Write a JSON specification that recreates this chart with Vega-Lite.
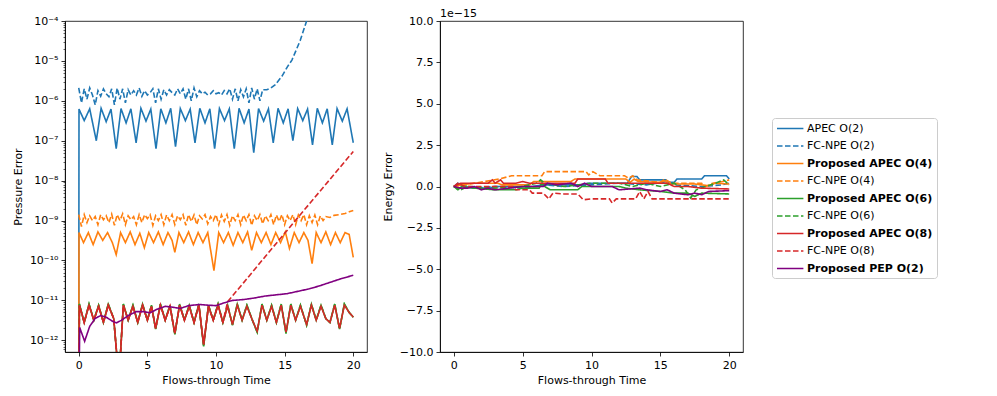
{
"$schema": "https://vega.github.io/schema/vega-lite/v6.json",
"padding": {"left": 11, "top": 7, "right": 5, "bottom": 5},
"background": "white",
"config": {
 "font": "DejaVu Sans",
 "view": {"stroke": "black", "strokeWidth": 0.8},
 "axis": {"labelFont": "DejaVu Sans", "labelFontSize": 11, "labelColor": "black", "titleFont": "DejaVu Sans", "titleFontSize": 11, "titleFontWeight": "normal", "titleColor": "black", "domainColor": "black", "domainWidth": 0.8, "tickColor": "black", "tickWidth": 0.8, "tickSize": 4, "labelPadding": 3, "grid": false},
 "axisX": {"titlePadding": 4},
 "axisY": {"titlePadding": 6}
},
"datasets": {
"pressure": [
{"s":"A2","t":0,"v":1e-14},{"s":"A2","t":0.02,"v":6.2e-7},{"s":"A2","t":0.4,"v":3.2e-7},{"s":"A2","t":0.8,"v":6.3e-7},{"s":"A2","t":1.28,"v":1.0e-7},{"s":"A2","t":1.63,"v":6.5e-7},{"s":"A2","t":2.0,"v":3.0e-7},{"s":"A2","t":2.35,"v":6.2e-7},{"s":"A2","t":2.73,"v":6.3e-8},{"s":"A2","t":3.08,"v":6.4e-7},{"s":"A2","t":3.45,"v":2.8e-7},{"s":"A2","t":3.8,"v":6.3e-7},{"s":"A2","t":4.18,"v":8.9e-8},{"s":"A2","t":4.53,"v":6.5e-7},{"s":"A2","t":4.9,"v":3.1e-7},{"s":"A2","t":5.25,"v":6.2e-7},{"s":"A2","t":5.63,"v":6.3e-8},{"s":"A2","t":5.98,"v":6.3e-7},{"s":"A2","t":6.35,"v":2.8e-7},{"s":"A2","t":6.7,"v":6.5e-7},{"s":"A2","t":7.05,"v":7.1e-8},{"s":"A2","t":7.4,"v":6.4e-7},{"s":"A2","t":7.77,"v":3.2e-7},{"s":"A2","t":8.12,"v":6.2e-7},{"s":"A2","t":8.47,"v":8.9e-8},{"s":"A2","t":8.82,"v":6.5e-7},{"s":"A2","t":9.2,"v":2.8e-7},{"s":"A2","t":9.55,"v":6.3e-7},{"s":"A2","t":9.9,"v":6.3e-8},{"s":"A2","t":10.25,"v":6.4e-7},{"s":"A2","t":10.62,"v":3.2e-7},{"s":"A2","t":10.97,"v":6.3e-7},{"s":"A2","t":11.33,"v":6.3e-8},{"s":"A2","t":11.68,"v":6.5e-7},{"s":"A2","t":12.05,"v":2.8e-7},{"s":"A2","t":12.4,"v":6.2e-7},{"s":"A2","t":12.75,"v":5.0e-8},{"s":"A2","t":13.1,"v":6.4e-7},{"s":"A2","t":13.47,"v":3.1e-7},{"s":"A2","t":13.82,"v":6.3e-7},{"s":"A2","t":14.17,"v":8.9e-8},{"s":"A2","t":14.52,"v":6.5e-7},{"s":"A2","t":14.9,"v":2.8e-7},{"s":"A2","t":15.25,"v":6.3e-7},{"s":"A2","t":15.6,"v":1.0e-7},{"s":"A2","t":15.95,"v":6.4e-7},{"s":"A2","t":16.32,"v":3.2e-7},{"s":"A2","t":16.67,"v":6.2e-7},{"s":"A2","t":17.03,"v":7.9e-8},{"s":"A2","t":17.38,"v":6.5e-7},{"s":"A2","t":17.75,"v":2.8e-7},{"s":"A2","t":18.1,"v":6.3e-7},{"s":"A2","t":18.47,"v":7.9e-8},{"s":"A2","t":18.82,"v":6.4e-7},{"s":"A2","t":19.2,"v":3.1e-7},{"s":"A2","t":19.55,"v":6.3e-7},{"s":"A2","t":20,"v":8.9e-8},
{"s":"F2","t":0,"v":2.1e-6},{"s":"F2","t":0.2,"v":8.9e-7},{"s":"F2","t":0.4,"v":2.0e-6},{"s":"F2","t":0.6,"v":1.1e-6},{"s":"F2","t":0.8,"v":2.1e-6},{"s":"F2","t":1.0,"v":1.4e-6},{"s":"F2","t":1.2,"v":7.9e-7},{"s":"F2","t":1.4,"v":1.8e-6},{"s":"F2","t":1.6,"v":1.3e-6},{"s":"F2","t":1.8,"v":2.0e-6},{"s":"F2","t":2.0,"v":1.5e-6},{"s":"F2","t":2.2,"v":1.26e-6},{"s":"F2","t":2.4,"v":2.0e-6},{"s":"F2","t":2.6,"v":7.9e-7},{"s":"F2","t":2.8,"v":2.1e-6},{"s":"F2","t":3.0,"v":1.1e-6},{"s":"F2","t":3.2,"v":2.0e-6},{"s":"F2","t":3.4,"v":8.9e-7},{"s":"F2","t":3.6,"v":1.9e-6},{"s":"F2","t":3.8,"v":1.4e-6},{"s":"F2","t":4.0,"v":1.8e-6},{"s":"F2","t":4.2,"v":1.4e-6},{"s":"F2","t":4.4,"v":2.1e-6},{"s":"F2","t":4.6,"v":1.3e-6},{"s":"F2","t":4.8,"v":1.8e-6},{"s":"F2","t":5.0,"v":1.4e-6},{"s":"F2","t":5.2,"v":1.6e-6},{"s":"F2","t":5.4,"v":2.0e-6},{"s":"F2","t":5.6,"v":8.9e-7},{"s":"F2","t":5.8,"v":2.0e-6},{"s":"F2","t":6.0,"v":1.1e-6},{"s":"F2","t":6.2,"v":1.9e-6},{"s":"F2","t":6.4,"v":1.4e-6},{"s":"F2","t":6.6,"v":1.9e-6},{"s":"F2","t":6.8,"v":1.6e-6},{"s":"F2","t":7.0,"v":1.4e-6},{"s":"F2","t":7.2,"v":2.0e-6},{"s":"F2","t":7.4,"v":1.5e-6},{"s":"F2","t":7.6,"v":2.0e-6},{"s":"F2","t":7.8,"v":1.1e-6},{"s":"F2","t":8.0,"v":2.0e-6},{"s":"F2","t":8.2,"v":1.0e-6},{"s":"F2","t":8.4,"v":2.1e-6},{"s":"F2","t":8.6,"v":1.26e-6},{"s":"F2","t":8.8,"v":1.8e-6},{"s":"F2","t":9.0,"v":1.5e-6},{"s":"F2","t":9.2,"v":1.65e-6},{"s":"F2","t":9.4,"v":1.4e-6},{"s":"F2","t":9.6,"v":1.5e-6},{"s":"F2","t":9.8,"v":1.8e-6},{"s":"F2","t":10.0,"v":1.5e-6},{"s":"F2","t":10.2,"v":1.6e-6},{"s":"F2","t":10.4,"v":1.4e-6},{"s":"F2","t":10.6,"v":1.8e-6},{"s":"F2","t":10.8,"v":1.5e-6},{"s":"F2","t":11.0,"v":2.0e-6},{"s":"F2","t":11.2,"v":1.1e-6},{"s":"F2","t":11.4,"v":2.0e-6},{"s":"F2","t":11.6,"v":1.0e-6},{"s":"F2","t":11.8,"v":1.9e-6},{"s":"F2","t":12.0,"v":1.26e-6},{"s":"F2","t":12.2,"v":2.0e-6},{"s":"F2","t":12.4,"v":8.9e-7},{"s":"F2","t":12.6,"v":2.1e-6},{"s":"F2","t":12.8,"v":1.1e-6},{"s":"F2","t":13.0,"v":2.0e-6},{"s":"F2","t":13.2,"v":1.0e-6},{"s":"F2","t":13.4,"v":1.9e-6},{"s":"F2","t":13.7,"v":1.9e-6},{"s":"F2","t":14.0,"v":2.1e-6},{"s":"F2","t":14.3,"v":2.5e-6},{"s":"F2","t":14.8,"v":4.1e-6},{"s":"F2","t":15.2,"v":7.1e-6},{"s":"F2","t":15.53,"v":1.05e-5},{"s":"F2","t":15.85,"v":1.9e-5},{"s":"F2","t":16.14,"v":3.3e-5},{"s":"F2","t":16.6,"v":1.0e-4},{"s":"F2","t":17.0,"v":2.2e-4},
{"s":"A4","t":0,"v":1e-14},{"s":"A4","t":0.02,"v":5.0e-10},{"s":"A4","t":0.35,"v":2.8e-10},{"s":"A4","t":0.7,"v":5.0e-10},{"s":"A4","t":1.05,"v":2.5e-10},{"s":"A4","t":1.4,"v":5.2e-10},{"s":"A4","t":1.75,"v":3.2e-10},{"s":"A4","t":2.1,"v":5.0e-10},{"s":"A4","t":2.45,"v":2.8e-10},{"s":"A4","t":2.73,"v":1.4e-10},{"s":"A4","t":3.05,"v":5.0e-10},{"s":"A4","t":3.4,"v":2.8e-10},{"s":"A4","t":3.75,"v":5.2e-10},{"s":"A4","t":4.1,"v":2.5e-10},{"s":"A4","t":4.45,"v":4.8e-10},{"s":"A4","t":4.78,"v":2.1e-10},{"s":"A4","t":5.1,"v":5.0e-10},{"s":"A4","t":5.45,"v":2.8e-10},{"s":"A4","t":5.8,"v":5.2e-10},{"s":"A4","t":6.15,"v":2.5e-10},{"s":"A4","t":6.5,"v":5.0e-10},{"s":"A4","t":6.8,"v":3.2e-10},{"s":"A4","t":7.0,"v":1.6e-10},{"s":"A4","t":7.3,"v":5.0e-10},{"s":"A4","t":7.65,"v":2.8e-10},{"s":"A4","t":8.0,"v":5.2e-10},{"s":"A4","t":8.35,"v":2.5e-10},{"s":"A4","t":8.7,"v":5.0e-10},{"s":"A4","t":9.05,"v":2.8e-10},{"s":"A4","t":9.4,"v":5.0e-10},{"s":"A4","t":9.85,"v":5.6e-11},{"s":"A4","t":10.2,"v":5.0e-10},{"s":"A4","t":10.55,"v":2.8e-10},{"s":"A4","t":10.9,"v":5.0e-10},{"s":"A4","t":11.25,"v":2.4e-10},{"s":"A4","t":11.6,"v":5.0e-10},{"s":"A4","t":11.95,"v":2.8e-10},{"s":"A4","t":12.3,"v":5.2e-10},{"s":"A4","t":12.6,"v":1.8e-10},{"s":"A4","t":12.95,"v":5.0e-10},{"s":"A4","t":13.3,"v":2.8e-10},{"s":"A4","t":13.65,"v":5.0e-10},{"s":"A4","t":14.0,"v":2.5e-10},{"s":"A4","t":14.35,"v":5.0e-10},{"s":"A4","t":14.7,"v":2.8e-10},{"s":"A4","t":15.05,"v":5.2e-10},{"s":"A4","t":15.35,"v":2.0e-10},{"s":"A4","t":15.7,"v":5.0e-10},{"s":"A4","t":16.05,"v":2.8e-10},{"s":"A4","t":16.4,"v":5.0e-10},{"s":"A4","t":16.7,"v":3.2e-10},{"s":"A4","t":17.0,"v":8.3e-11},{"s":"A4","t":17.3,"v":5.0e-10},{"s":"A4","t":17.65,"v":2.8e-10},{"s":"A4","t":18.0,"v":5.2e-10},{"s":"A4","t":18.35,"v":2.5e-10},{"s":"A4","t":18.7,"v":5.0e-10},{"s":"A4","t":19.05,"v":2.8e-10},{"s":"A4","t":19.4,"v":5.0e-10},{"s":"A4","t":19.7,"v":4.5e-10},{"s":"A4","t":20,"v":1.2e-10},
{"s":"F4","t":0,"v":1.41e-9},{"s":"F4","t":0.2,"v":7.1e-10},{"s":"F4","t":0.4,"v":1.41e-9},{"s":"F4","t":0.6,"v":8.9e-10},{"s":"F4","t":0.8,"v":1.32e-9},{"s":"F4","t":1.0,"v":1.0e-9},{"s":"F4","t":1.2,"v":1.26e-9},{"s":"F4","t":1.4,"v":7.9e-10},{"s":"F4","t":1.6,"v":1.41e-9},{"s":"F4","t":1.8,"v":1.05e-9},{"s":"F4","t":2.0,"v":1.32e-9},{"s":"F4","t":2.2,"v":8.9e-10},{"s":"F4","t":2.4,"v":1.45e-9},{"s":"F4","t":2.6,"v":7.6e-10},{"s":"F4","t":2.8,"v":1.41e-9},{"s":"F4","t":3.0,"v":1.0e-9},{"s":"F4","t":3.2,"v":1.48e-9},{"s":"F4","t":3.4,"v":7.9e-10},{"s":"F4","t":3.6,"v":1.32e-9},{"s":"F4","t":3.8,"v":1.05e-9},{"s":"F4","t":4.0,"v":1.26e-9},{"s":"F4","t":4.2,"v":7.9e-10},{"s":"F4","t":4.4,"v":1.41e-9},{"s":"F4","t":4.6,"v":8.9e-10},{"s":"F4","t":4.8,"v":1.41e-9},{"s":"F4","t":5.0,"v":1.12e-9},{"s":"F4","t":5.2,"v":1.41e-9},{"s":"F4","t":5.4,"v":7.6e-10},{"s":"F4","t":5.6,"v":1.32e-9},{"s":"F4","t":5.8,"v":1.0e-9},{"s":"F4","t":6.0,"v":1.41e-9},{"s":"F4","t":6.2,"v":7.9e-10},{"s":"F4","t":6.4,"v":1.38e-9},{"s":"F4","t":6.6,"v":1.0e-9},{"s":"F4","t":6.8,"v":1.41e-9},{"s":"F4","t":7.0,"v":7.9e-10},{"s":"F4","t":7.2,"v":1.32e-9},{"s":"F4","t":7.4,"v":1.05e-9},{"s":"F4","t":7.6,"v":1.41e-9},{"s":"F4","t":7.8,"v":7.6e-10},{"s":"F4","t":8.0,"v":1.41e-9},{"s":"F4","t":8.2,"v":9.5e-10},{"s":"F4","t":8.4,"v":1.38e-9},{"s":"F4","t":8.6,"v":7.9e-10},{"s":"F4","t":8.8,"v":1.32e-9},{"s":"F4","t":9.0,"v":1.1e-9},{"s":"F4","t":9.2,"v":1.41e-9},{"s":"F4","t":9.4,"v":8.3e-10},{"s":"F4","t":9.6,"v":1.26e-9},{"s":"F4","t":9.8,"v":1.0e-9},{"s":"F4","t":10.0,"v":1.41e-9},{"s":"F4","t":10.2,"v":7.9e-10},{"s":"F4","t":10.4,"v":1.38e-9},{"s":"F4","t":10.6,"v":9.5e-10},{"s":"F4","t":10.8,"v":1.41e-9},{"s":"F4","t":11.0,"v":7.6e-10},{"s":"F4","t":11.2,"v":1.32e-9},{"s":"F4","t":11.4,"v":1.0e-9},{"s":"F4","t":11.6,"v":1.41e-9},{"s":"F4","t":11.8,"v":7.9e-10},{"s":"F4","t":12.0,"v":1.38e-9},{"s":"F4","t":12.2,"v":1.0e-9},{"s":"F4","t":12.4,"v":1.41e-9},{"s":"F4","t":12.6,"v":7.6e-10},{"s":"F4","t":12.8,"v":1.32e-9},{"s":"F4","t":13.0,"v":1.0e-9},{"s":"F4","t":13.2,"v":1.41e-9},{"s":"F4","t":13.4,"v":8.3e-10},{"s":"F4","t":13.6,"v":1.32e-9},{"s":"F4","t":13.8,"v":1.0e-9},{"s":"F4","t":14.0,"v":1.41e-9},{"s":"F4","t":14.2,"v":7.9e-10},{"s":"F4","t":14.4,"v":1.38e-9},{"s":"F4","t":14.6,"v":9.5e-10},{"s":"F4","t":14.8,"v":1.41e-9},{"s":"F4","t":15.0,"v":7.9e-10},{"s":"F4","t":15.2,"v":1.32e-9},{"s":"F4","t":15.4,"v":1.0e-9},{"s":"F4","t":15.6,"v":1.41e-9},{"s":"F4","t":15.8,"v":7.9e-10},{"s":"F4","t":16.0,"v":1.38e-9},{"s":"F4","t":16.2,"v":1.0e-9},{"s":"F4","t":16.4,"v":1.41e-9},{"s":"F4","t":16.6,"v":7.9e-10},{"s":"F4","t":16.8,"v":1.32e-9},{"s":"F4","t":17.0,"v":8.9e-10},{"s":"F4","t":17.2,"v":1.38e-9},{"s":"F4","t":17.4,"v":7.9e-10},{"s":"F4","t":17.6,"v":1.32e-9},{"s":"F4","t":17.8,"v":1.0e-9},{"s":"F4","t":18.0,"v":1.26e-9},{"s":"F4","t":18.3,"v":1.2e-9},{"s":"F4","t":18.6,"v":1.35e-9},{"s":"F4","t":19.0,"v":1.41e-9},{"s":"F4","t":19.4,"v":1.51e-9},{"s":"F4","t":19.7,"v":1.66e-9},{"s":"F4","t":20,"v":1.78e-9},
{"s":"A6","t":0,"v":1e-14},{"s":"A6","t":0.05,"v":8.1e-12},{"s":"A6","t":0.4,"v":2.8e-12},{"s":"A6","t":0.75,"v":8.1e-12},{"s":"A6","t":1.1,"v":3.2e-12},{"s":"A6","t":1.45,"v":7.6e-12},{"s":"A6","t":1.8,"v":2.8e-12},{"s":"A6","t":2.15,"v":8.1e-12},{"s":"A6","t":2.55,"v":3.5e-12},{"s":"A6","t":2.93,"v":1e-13},{"s":"A6","t":3.25,"v":8.1e-12},{"s":"A6","t":3.6,"v":3.2e-12},{"s":"A6","t":3.95,"v":7.6e-12},{"s":"A6","t":4.3,"v":2.8e-12},{"s":"A6","t":4.65,"v":8.1e-12},{"s":"A6","t":5.0,"v":3.2e-12},{"s":"A6","t":5.3,"v":7.6e-12},{"s":"A6","t":5.6,"v":1.9e-12},{"s":"A6","t":5.95,"v":8.1e-12},{"s":"A6","t":6.3,"v":3.2e-12},{"s":"A6","t":6.65,"v":7.6e-12},{"s":"A6","t":7.0,"v":1.4e-12},{"s":"A6","t":7.35,"v":8.1e-12},{"s":"A6","t":7.7,"v":3.2e-12},{"s":"A6","t":8.05,"v":7.6e-12},{"s":"A6","t":8.4,"v":2.8e-12},{"s":"A6","t":8.75,"v":8.1e-12},{"s":"A6","t":9.1,"v":7.0e-13},{"s":"A6","t":9.45,"v":7.6e-12},{"s":"A6","t":9.8,"v":3.2e-12},{"s":"A6","t":10.15,"v":8.1e-12},{"s":"A6","t":10.5,"v":2.8e-12},{"s":"A6","t":10.85,"v":7.6e-12},{"s":"A6","t":11.2,"v":2.4e-12},{"s":"A6","t":11.55,"v":8.1e-12},{"s":"A6","t":11.9,"v":3.2e-12},{"s":"A6","t":12.25,"v":7.6e-12},{"s":"A6","t":12.65,"v":3.2e-12},{"s":"A6","t":13.0,"v":1.6e-12},{"s":"A6","t":13.35,"v":8.1e-12},{"s":"A6","t":13.7,"v":3.2e-12},{"s":"A6","t":14.05,"v":7.6e-12},{"s":"A6","t":14.4,"v":2.8e-12},{"s":"A6","t":14.75,"v":8.1e-12},{"s":"A6","t":15.1,"v":1.5e-12},{"s":"A6","t":15.45,"v":8.1e-12},{"s":"A6","t":15.8,"v":3.2e-12},{"s":"A6","t":16.15,"v":7.6e-12},{"s":"A6","t":16.6,"v":2.4e-12},{"s":"A6","t":16.95,"v":8.1e-12},{"s":"A6","t":17.3,"v":3.2e-12},{"s":"A6","t":17.65,"v":7.6e-12},{"s":"A6","t":18.0,"v":3.5e-12},{"s":"A6","t":18.3,"v":2.8e-12},{"s":"A6","t":18.65,"v":8.1e-12},{"s":"A6","t":19.0,"v":1.9e-12},{"s":"A6","t":19.35,"v":8.1e-12},{"s":"A6","t":19.7,"v":5.0e-12},{"s":"A6","t":20,"v":3.8e-12},
{"s":"F6","t":0,"v":1e-14},{"s":"F6","t":0.05,"v":8.1e-12},{"s":"F6","t":0.4,"v":2.8e-12},{"s":"F6","t":0.75,"v":8.1e-12},{"s":"F6","t":1.1,"v":3.2e-12},{"s":"F6","t":1.45,"v":7.6e-12},{"s":"F6","t":1.8,"v":2.8e-12},{"s":"F6","t":2.15,"v":8.1e-12},{"s":"F6","t":2.55,"v":3.5e-12},{"s":"F6","t":2.93,"v":1e-13},{"s":"F6","t":3.25,"v":8.1e-12},{"s":"F6","t":3.6,"v":3.2e-12},{"s":"F6","t":3.95,"v":7.6e-12},{"s":"F6","t":4.3,"v":2.8e-12},{"s":"F6","t":4.65,"v":8.1e-12},{"s":"F6","t":5.0,"v":3.2e-12},{"s":"F6","t":5.3,"v":7.6e-12},{"s":"F6","t":5.6,"v":1.9e-12},{"s":"F6","t":5.95,"v":8.1e-12},{"s":"F6","t":6.3,"v":3.2e-12},{"s":"F6","t":6.65,"v":7.6e-12},{"s":"F6","t":7.0,"v":1.4e-12},{"s":"F6","t":7.35,"v":8.1e-12},{"s":"F6","t":7.7,"v":3.2e-12},{"s":"F6","t":8.05,"v":7.6e-12},{"s":"F6","t":8.4,"v":2.8e-12},{"s":"F6","t":8.75,"v":8.1e-12},{"s":"F6","t":9.1,"v":7.0e-13},{"s":"F6","t":9.45,"v":7.6e-12},{"s":"F6","t":9.8,"v":3.2e-12},{"s":"F6","t":10.15,"v":8.1e-12},{"s":"F6","t":10.5,"v":2.8e-12},{"s":"F6","t":10.85,"v":7.6e-12},{"s":"F6","t":11.2,"v":2.4e-12},{"s":"F6","t":11.55,"v":8.1e-12},{"s":"F6","t":11.9,"v":3.2e-12},{"s":"F6","t":12.25,"v":7.6e-12},{"s":"F6","t":12.65,"v":3.2e-12},{"s":"F6","t":13.0,"v":1.6e-12},{"s":"F6","t":13.35,"v":8.1e-12},{"s":"F6","t":13.7,"v":3.2e-12},{"s":"F6","t":14.05,"v":7.6e-12},{"s":"F6","t":14.4,"v":2.8e-12},{"s":"F6","t":14.75,"v":8.1e-12},{"s":"F6","t":15.1,"v":1.5e-12},{"s":"F6","t":15.45,"v":8.1e-12},{"s":"F6","t":15.8,"v":3.2e-12},{"s":"F6","t":16.15,"v":7.6e-12},{"s":"F6","t":16.6,"v":2.4e-12},{"s":"F6","t":16.95,"v":8.1e-12},{"s":"F6","t":17.3,"v":3.2e-12},{"s":"F6","t":17.65,"v":7.6e-12},{"s":"F6","t":18.0,"v":3.5e-12},{"s":"F6","t":18.3,"v":2.8e-12},{"s":"F6","t":18.65,"v":8.1e-12},{"s":"F6","t":19.0,"v":1.9e-12},{"s":"F6","t":19.35,"v":8.1e-12},{"s":"F6","t":19.7,"v":5.0e-12},{"s":"F6","t":20,"v":3.8e-12},
{"s":"A8","t":0,"v":1e-14},{"s":"A8","t":0.05,"v":7.6e-12},{"s":"A8","t":0.4,"v":2.8e-12},{"s":"A8","t":0.75,"v":7.6e-12},{"s":"A8","t":1.1,"v":3.2e-12},{"s":"A8","t":1.45,"v":7.1e-12},{"s":"A8","t":1.8,"v":2.8e-12},{"s":"A8","t":2.15,"v":7.6e-12},{"s":"A8","t":2.55,"v":3.5e-12},{"s":"A8","t":2.93,"v":1e-13},{"s":"A8","t":3.25,"v":7.6e-12},{"s":"A8","t":3.6,"v":3.2e-12},{"s":"A8","t":3.95,"v":7.1e-12},{"s":"A8","t":4.3,"v":2.8e-12},{"s":"A8","t":4.65,"v":7.6e-12},{"s":"A8","t":5.0,"v":3.2e-12},{"s":"A8","t":5.3,"v":7.1e-12},{"s":"A8","t":5.6,"v":2.0e-12},{"s":"A8","t":5.95,"v":7.6e-12},{"s":"A8","t":6.3,"v":3.2e-12},{"s":"A8","t":6.65,"v":7.1e-12},{"s":"A8","t":7.0,"v":1.5e-12},{"s":"A8","t":7.35,"v":7.6e-12},{"s":"A8","t":7.7,"v":3.2e-12},{"s":"A8","t":8.05,"v":7.1e-12},{"s":"A8","t":8.4,"v":2.8e-12},{"s":"A8","t":8.75,"v":7.6e-12},{"s":"A8","t":9.1,"v":7.9e-13},{"s":"A8","t":9.45,"v":7.1e-12},{"s":"A8","t":9.8,"v":3.2e-12},{"s":"A8","t":10.15,"v":7.6e-12},{"s":"A8","t":10.5,"v":2.8e-12},{"s":"A8","t":10.85,"v":7.1e-12},{"s":"A8","t":11.2,"v":2.5e-12},{"s":"A8","t":11.55,"v":7.6e-12},{"s":"A8","t":11.9,"v":3.2e-12},{"s":"A8","t":12.25,"v":7.1e-12},{"s":"A8","t":12.65,"v":3.2e-12},{"s":"A8","t":13.0,"v":1.7e-12},{"s":"A8","t":13.35,"v":7.6e-12},{"s":"A8","t":13.7,"v":3.2e-12},{"s":"A8","t":14.05,"v":7.1e-12},{"s":"A8","t":14.4,"v":2.8e-12},{"s":"A8","t":14.75,"v":7.6e-12},{"s":"A8","t":15.1,"v":1.6e-12},{"s":"A8","t":15.45,"v":7.6e-12},{"s":"A8","t":15.8,"v":3.2e-12},{"s":"A8","t":16.15,"v":7.1e-12},{"s":"A8","t":16.6,"v":2.5e-12},{"s":"A8","t":16.95,"v":7.6e-12},{"s":"A8","t":17.3,"v":3.2e-12},{"s":"A8","t":17.65,"v":7.1e-12},{"s":"A8","t":18.0,"v":3.5e-12},{"s":"A8","t":18.3,"v":2.8e-12},{"s":"A8","t":18.65,"v":7.6e-12},{"s":"A8","t":19.0,"v":2.0e-12},{"s":"A8","t":19.35,"v":7.6e-12},{"s":"A8","t":19.7,"v":5.0e-12},{"s":"A8","t":20,"v":3.8e-12},
{"s":"F8","t":0,"v":1e-14},{"s":"F8","t":0.05,"v":7.6e-12},{"s":"F8","t":0.4,"v":2.8e-12},{"s":"F8","t":0.75,"v":7.6e-12},{"s":"F8","t":1.1,"v":3.2e-12},{"s":"F8","t":1.45,"v":7.1e-12},{"s":"F8","t":1.8,"v":2.8e-12},{"s":"F8","t":2.15,"v":7.6e-12},{"s":"F8","t":2.55,"v":3.5e-12},{"s":"F8","t":2.93,"v":1e-13},{"s":"F8","t":3.25,"v":7.6e-12},{"s":"F8","t":3.6,"v":3.2e-12},{"s":"F8","t":3.95,"v":7.1e-12},{"s":"F8","t":4.3,"v":2.8e-12},{"s":"F8","t":4.65,"v":7.6e-12},{"s":"F8","t":5.0,"v":3.2e-12},{"s":"F8","t":5.3,"v":7.1e-12},{"s":"F8","t":5.6,"v":2.0e-12},{"s":"F8","t":5.95,"v":7.6e-12},{"s":"F8","t":6.3,"v":3.2e-12},{"s":"F8","t":6.65,"v":7.1e-12},{"s":"F8","t":7.0,"v":1.5e-12},{"s":"F8","t":7.35,"v":7.6e-12},{"s":"F8","t":7.7,"v":3.2e-12},{"s":"F8","t":8.05,"v":7.1e-12},{"s":"F8","t":8.4,"v":2.8e-12},{"s":"F8","t":8.75,"v":7.6e-12},{"s":"F8","t":9.1,"v":7.9e-13},{"s":"F8","t":9.45,"v":7.1e-12},{"s":"F8","t":9.8,"v":3.2e-12},{"s":"F8","t":10.15,"v":7.6e-12},{"s":"F8","t":10.5,"v":2.8e-12},{"s":"F8","t":10.85,"v":9.3e-12},{"s":"F8","t":12.0,"v":2.75e-11},{"s":"F8","t":14.0,"v":1.86e-10},{"s":"F8","t":16.0,"v":1.23e-9},{"s":"F8","t":18.0,"v":8.1e-9},{"s":"F8","t":20,"v":5.4e-8},
{"s":"P2","t":0,"v":1e-14},{"s":"P2","t":0.07,"v":2.09e-12},{"s":"P2","t":0.43,"v":9.5e-13},{"s":"P2","t":0.8,"v":2.24e-12},{"s":"P2","t":1.2,"v":3.55e-12},{"s":"P2","t":1.6,"v":4.17e-12},{"s":"P2","t":2.0,"v":3.8e-12},{"s":"P2","t":2.5,"v":2.95e-12},{"s":"P2","t":2.75,"v":2.75e-12},{"s":"P2","t":3.1,"v":3.16e-12},{"s":"P2","t":3.6,"v":4.17e-12},{"s":"P2","t":4.2,"v":5.25e-12},{"s":"P2","t":4.7,"v":5.25e-12},{"s":"P2","t":5.2,"v":4.9e-12},{"s":"P2","t":5.7,"v":6.0e-12},{"s":"P2","t":6.3,"v":7.1e-12},{"s":"P2","t":6.8,"v":6.8e-12},{"s":"P2","t":7.4,"v":6.3e-12},{"s":"P2","t":8.0,"v":7.4e-12},{"s":"P2","t":8.8,"v":7.9e-12},{"s":"P2","t":9.4,"v":7.6e-12},{"s":"P2","t":10.0,"v":7.4e-12},{"s":"P2","t":10.6,"v":8.7e-12},{"s":"P2","t":11.2,"v":1.0e-11},{"s":"P2","t":12.0,"v":1.05e-11},{"s":"P2","t":12.8,"v":1.15e-11},{"s":"P2","t":13.6,"v":1.29e-11},{"s":"P2","t":14.4,"v":1.38e-11},{"s":"P2","t":15.2,"v":1.48e-11},{"s":"P2","t":16.0,"v":1.7e-11},{"s":"P2","t":16.8,"v":1.95e-11},{"s":"P2","t":17.5,"v":2.29e-11},{"s":"P2","t":18.2,"v":2.75e-11},{"s":"P2","t":19.0,"v":3.4e-11},{"s":"P2","t":20,"v":4.27e-11}
],
"energy": [
{"s":"A2","t":0,"e":0},{"s":"A2","t":0.3,"e":0.2},{"s":"A2","t":0.6,"e":0},{"s":"A2","t":1.6,"e":-0.1},{"s":"A2","t":2.6,"e":-0.1},{"s":"A2","t":3.0,"e":0},{"s":"A2","t":6.0,"e":0},{"s":"A2","t":6.3,"e":0.1},{"s":"A2","t":9.4,"e":0.1},{"s":"A2","t":9.7,"e":0.2},{"s":"A2","t":12.6,"e":0.2},{"s":"A2","t":12.9,"e":0.6},{"s":"A2","t":13.3,"e":0.6},{"s":"A2","t":13.5,"e":0.4},{"s":"A2","t":15.4,"e":0.4},{"s":"A2","t":15.6,"e":0.25},{"s":"A2","t":16.0,"e":0.25},{"s":"A2","t":16.2,"e":0.45},{"s":"A2","t":18.0,"e":0.45},{"s":"A2","t":18.2,"e":0.65},{"s":"A2","t":19.8,"e":0.65},{"s":"A2","t":20,"e":0.45},
{"s":"F2","t":0,"e":0},{"s":"F2","t":0.5,"e":0.1},{"s":"F2","t":1.5,"e":-0.1},{"s":"F2","t":3,"e":0},{"s":"F2","t":5,"e":-0.1},{"s":"F2","t":6.5,"e":0.1},{"s":"F2","t":8,"e":0},{"s":"F2","t":10,"e":0.1},{"s":"F2","t":12,"e":0.2},{"s":"F2","t":14,"e":0.1},{"s":"F2","t":15.5,"e":0.3},{"s":"F2","t":16,"e":0.1},{"s":"F2","t":18,"e":0},{"s":"F2","t":19.5,"e":0.1},{"s":"F2","t":20,"e":0.2},
{"s":"A4","t":0,"e":0},{"s":"A4","t":0.5,"e":0.1},{"s":"A4","t":1.5,"e":0.2},{"s":"A4","t":3.2,"e":0.2},{"s":"A4","t":3.5,"e":0.1},{"s":"A4","t":5.5,"e":0.1},{"s":"A4","t":5.8,"e":0.3},{"s":"A4","t":8.5,"e":0.3},{"s":"A4","t":8.8,"e":0.45},{"s":"A4","t":12.5,"e":0.45},{"s":"A4","t":12.8,"e":0.25},{"s":"A4","t":13.1,"e":0.45},{"s":"A4","t":13.4,"e":0.3},{"s":"A4","t":15,"e":0.25},{"s":"A4","t":15.3,"e":0.35},{"s":"A4","t":15.6,"e":0.15},{"s":"A4","t":17.5,"e":0.15},{"s":"A4","t":18.5,"e":0.05},{"s":"A4","t":19,"e":0.2},{"s":"A4","t":20,"e":0.15},
{"s":"F4","t":0,"e":0},{"s":"F4","t":1.5,"e":0.2},{"s":"F4","t":3.3,"e":0.45},{"s":"F4","t":4.2,"e":0.65},{"s":"F4","t":6.4,"e":0.65},{"s":"F4","t":6.6,"e":0.9},{"s":"F4","t":9.6,"e":0.9},{"s":"F4","t":9.8,"e":0.7},{"s":"F4","t":10.1,"e":0.9},{"s":"F4","t":10.6,"e":0.65},{"s":"F4","t":12.4,"e":0.65},{"s":"F4","t":12.7,"e":0.5},{"s":"F4","t":13.0,"e":0.65},{"s":"F4","t":13.3,"e":0.4},{"s":"F4","t":15.0,"e":0.25},{"s":"F4","t":15.3,"e":0.45},{"s":"F4","t":15.8,"e":0.2},{"s":"F4","t":18.0,"e":0.2},{"s":"F4","t":18.3,"e":0.0},{"s":"F4","t":18.8,"e":0.2},{"s":"F4","t":19.5,"e":0.3},{"s":"F4","t":20,"e":0.4},
{"s":"A6","t":0,"e":0},{"s":"A6","t":0.3,"e":-0.2},{"s":"A6","t":0.6,"e":0},{"s":"A6","t":1.5,"e":-0.1},{"s":"A6","t":3.0,"e":-0.2},{"s":"A6","t":4.5,"e":-0.2},{"s":"A6","t":5,"e":-0.1},{"s":"A6","t":6.2,"e":-0.1},{"s":"A6","t":6.4,"e":0.2},{"s":"A6","t":6.6,"e":0},{"s":"A6","t":7,"e":-0.2},{"s":"A6","t":9.0,"e":-0.2},{"s":"A6","t":9.3,"e":0},{"s":"A6","t":12,"e":0},{"s":"A6","t":12.5,"e":-0.1},{"s":"A6","t":13.5,"e":-0.2},{"s":"A6","t":15,"e":-0.3},{"s":"A6","t":16,"e":-0.4},{"s":"A6","t":17,"e":-0.4},{"s":"A6","t":17.5,"e":-0.6},{"s":"A6","t":18,"e":-0.4},{"s":"A6","t":20,"e":-0.45},
{"s":"F6","t":0,"e":0},{"s":"F6","t":0.5,"e":-0.2},{"s":"F6","t":1,"e":0},{"s":"F6","t":3,"e":-0.1},{"s":"F6","t":5,"e":0},{"s":"F6","t":6,"e":0.2},{"s":"F6","t":6.3,"e":0.4},{"s":"F6","t":6.6,"e":0.2},{"s":"F6","t":8,"e":0},{"s":"F6","t":10,"e":0.2},{"s":"F6","t":12,"e":0.2},{"s":"F6","t":13,"e":0},{"s":"F6","t":14,"e":0.2},{"s":"F6","t":15,"e":0},{"s":"F6","t":16,"e":0.2},{"s":"F6","t":16.8,"e":-0.2},{"s":"F6","t":17.2,"e":-0.7},{"s":"F6","t":17.6,"e":-0.2},{"s":"F6","t":19,"e":0.2},{"s":"F6","t":19.6,"e":0.4},{"s":"F6","t":20,"e":0.1},
{"s":"A8","t":0,"e":0},{"s":"A8","t":0.5,"e":0.2},{"s":"A8","t":2.5,"e":0.2},{"s":"A8","t":2.8,"e":0.4},{"s":"A8","t":3.0,"e":0.2},{"s":"A8","t":3.4,"e":0.4},{"s":"A8","t":3.6,"e":0.2},{"s":"A8","t":4.5,"e":0.2},{"s":"A8","t":5,"e":0.3},{"s":"A8","t":5.5,"e":0.2},{"s":"A8","t":8.8,"e":0.2},{"s":"A8","t":9.0,"e":0.45},{"s":"A8","t":11.0,"e":0.45},{"s":"A8","t":11.2,"e":0.2},{"s":"A8","t":15.5,"e":0.2},{"s":"A8","t":16,"e":0},{"s":"A8","t":17,"e":0},{"s":"A8","t":18,"e":-0.1},{"s":"A8","t":20,"e":-0.15},
{"s":"F8","t":0,"e":0},{"s":"F8","t":0.3,"e":0.2},{"s":"F8","t":0.8,"e":0},{"s":"F8","t":4.3,"e":0},{"s":"F8","t":4.5,"e":-0.2},{"s":"F8","t":5.5,"e":-0.2},{"s":"F8","t":5.7,"e":-0.4},{"s":"F8","t":6.5,"e":-0.4},{"s":"F8","t":6.9,"e":-0.75},{"s":"F8","t":7.2,"e":-0.4},{"s":"F8","t":8.0,"e":-0.45},{"s":"F8","t":9.0,"e":-0.45},{"s":"F8","t":9.4,"e":-0.8},{"s":"F8","t":10.0,"e":-0.75},{"s":"F8","t":11.3,"e":-0.75},{"s":"F8","t":11.5,"e":-1.0},{"s":"F8","t":11.8,"e":-0.75},{"s":"F8","t":13.2,"e":-0.75},{"s":"F8","t":13.5,"e":-0.3},{"s":"F8","t":13.8,"e":-0.75},{"s":"F8","t":14.1,"e":-0.3},{"s":"F8","t":14.4,"e":-0.75},{"s":"F8","t":20,"e":-0.75},
{"s":"P2","t":0,"e":0},{"s":"P2","t":0.5,"e":-0.1},{"s":"P2","t":1,"e":-0.1},{"s":"P2","t":1.5,"e":0},{"s":"P2","t":2.0,"e":-0.2},{"s":"P2","t":2.5,"e":-0.1},{"s":"P2","t":3,"e":-0.2},{"s":"P2","t":4,"e":-0.1},{"s":"P2","t":5,"e":0},{"s":"P2","t":6.5,"e":0},{"s":"P2","t":6.8,"e":0.2},{"s":"P2","t":7.5,"e":0.1},{"s":"P2","t":8.5,"e":0.2},{"s":"P2","t":9,"e":0},{"s":"P2","t":9.5,"e":0.2},{"s":"P2","t":10,"e":0},{"s":"P2","t":11.5,"e":0},{"s":"P2","t":12,"e":-0.2},{"s":"P2","t":13.5,"e":-0.1},{"s":"P2","t":14,"e":-0.2},{"s":"P2","t":15,"e":-0.3},{"s":"P2","t":15.5,"e":-0.2},{"s":"P2","t":16,"e":-0.4},{"s":"P2","t":17,"e":-0.5},{"s":"P2","t":17.5,"e":-0.4},{"s":"P2","t":18,"e":-0.5},{"s":"P2","t":18.5,"e":-0.3},{"s":"P2","t":20,"e":-0.25}
]
},
"spacing": 73,
"bounds": "flush",
"hconcat": [
{
 "width": 302, "height": 331,
 "data": {"name": "pressure"},
 "mark": {"type": "line", "clip": true, "strokeWidth": 1.6},
 "encoding": {
  "x": {"field": "t", "type": "quantitative", "scale": {"domain": [-1, 21], "nice": false, "zero": false}, "axis": {"values": [0, 5, 10, 15, 20], "format": "d", "title": "Flows-through Time"}},
  "y": {"field": "v", "type": "quantitative", "scale": {"type": "log", "domain": [5.1e-13, 1e-4], "nice": false},
   "axis": {"title": "Pressure Error", "labelOverlap": false,
    "values": [6e-13,7e-13,8e-13,9e-13,1e-12,2e-12,3e-12,4e-12,5e-12,6e-12,7e-12,8e-12,9e-12,1e-11,2e-11,3e-11,4e-11,5e-11,6e-11,7e-11,8e-11,9e-11,1e-10,2e-10,3e-10,4e-10,5e-10,6e-10,7e-10,8e-10,9e-10,1e-9,2e-9,3e-9,4e-9,5e-9,6e-9,7e-9,8e-9,9e-9,1e-8,2e-8,3e-8,4e-8,5e-8,6e-8,7e-8,8e-8,9e-8,1e-7,2e-7,3e-7,4e-7,5e-7,6e-7,7e-7,8e-7,9e-7,1e-6,2e-6,3e-6,4e-6,5e-6,6e-6,7e-6,8e-6,9e-6,1e-5,2e-5,3e-5,4e-5,5e-5,6e-5,7e-5,8e-5,9e-5,1e-4],
    "labelExpr": "abs(log(datum.value)/LN10 - round(log(datum.value)/LN10)) > 0.01 ? '' : ['10⁻¹²','10⁻¹¹','10⁻¹⁰','10⁻⁹','10⁻⁸','10⁻⁷','10⁻⁶','10⁻⁵','10⁻⁴'][round(log(datum.value)/LN10) + 12]",
    "tickSize": {"condition": {"test": "abs(log(datum.value)/LN10 - round(log(datum.value)/LN10)) > 0.01", "value": 2}, "value": 4},
    "tickWidth": {"condition": {"test": "abs(log(datum.value)/LN10 - round(log(datum.value)/LN10)) > 0.01", "value": 0.6}, "value": 0.8}
   }},
  "color": {"field": "s", "type": "nominal",
   "scale": {"domain": ["A2","F2","A4","F4","A6","F6","A8","F8","P2"], "range": ["#1f77b4","#1f77b4","#ff7f0e","#ff7f0e","#2ca02c","#2ca02c","#d62728","#d62728","#800080"]},
   "legend": {"title": null, "orient": "none", "legendX": 707, "legendY": 97, "symbolType": "M-1,0H3.8", "symbolSize": 121, "symbolStrokeWidth": 1.6, "labelFontSize": 11, "labelFont": "DejaVu Sans", "labelColor": "black", "strokeColor": "#cccccc", "fillColor": "white", "cornerRadius": 3, "padding": 4, "rowPadding": 5.5, "labelOffset": 18,
    "labelExpr": "datum.value == 'A2' ? 'APEC O(2)' : datum.value == 'F2' ? 'FC-NPE O(2)' : datum.value == 'A4' ? 'Proposed APEC O(4)' : datum.value == 'F4' ? 'FC-NPE O(4)' : datum.value == 'A6' ? 'Proposed APEC O(6)' : datum.value == 'F6' ? 'FC-NPE O(6)' : datum.value == 'A8' ? 'Proposed APEC O(8)' : datum.value == 'F8' ? 'FC-NPE O(8)' : 'Proposed PEP O(2)'",
    "encode": {"labels": {"update": {"fontWeight": {"signal": "indexof(['A4','A6','A8','P2'], datum.value) >= 0 ? 'bold' : 'normal'"}}}}}},
  "strokeDash": {"field": "s", "type": "nominal",
   "scale": {"domain": ["A2","F2","A4","F4","A6","F6","A8","F8","P2"], "range": [[1,0],[5.5,2.5],[1,0],[5.5,2.5],[1,0],[5.5,2.5],[1,0],[5.5,2.5],[1,0]]},
   "legend": {"title": null, "orient": "none", "legendX": 707, "legendY": 97, "symbolType": "M-1,0H3.8", "symbolSize": 121, "symbolStrokeWidth": 1.6, "labelFontSize": 11, "labelFont": "DejaVu Sans", "labelColor": "black", "strokeColor": "#cccccc", "fillColor": "white", "cornerRadius": 3, "padding": 4, "rowPadding": 5.5, "labelOffset": 18,
    "labelExpr": "datum.value == 'A2' ? 'APEC O(2)' : datum.value == 'F2' ? 'FC-NPE O(2)' : datum.value == 'A4' ? 'Proposed APEC O(4)' : datum.value == 'F4' ? 'FC-NPE O(4)' : datum.value == 'A6' ? 'Proposed APEC O(6)' : datum.value == 'F6' ? 'FC-NPE O(6)' : datum.value == 'A8' ? 'Proposed APEC O(8)' : datum.value == 'F8' ? 'FC-NPE O(8)' : 'Proposed PEP O(2)'",
    "encode": {"labels": {"update": {"fontWeight": {"signal": "indexof(['A4','A6','A8','P2'], datum.value) >= 0 ? 'bold' : 'normal'"}}}}}}
 }
},
{
 "width": 303, "height": 331,
 "title": {"text": "1e−15", "anchor": "start", "frame": "group", "fontSize": 11, "font": "DejaVu Sans", "fontWeight": "normal", "color": "black", "offset": -4},
 "data": {"name": "energy"},
 "mark": {"type": "line", "clip": true, "strokeWidth": 1.6},
 "encoding": {
  "x": {"field": "t", "type": "quantitative", "scale": {"domain": [-1, 21], "nice": false, "zero": false}, "axis": {"values": [0, 5, 10, 15, 20], "format": "d", "title": "Flows-through Time"}},
  "y": {"field": "e", "type": "quantitative", "scale": {"domain": [-10, 10], "nice": false, "zero": false}, "axis": {"title": "Energy Error", "values": [-10,-7.5,-5,-2.5,0,2.5,5,7.5,10], "format": ".1f"}},
  "color": {"field": "s", "type": "nominal", "scale": {"domain": ["A2","F2","A4","F4","A6","F6","A8","F8","P2"], "range": ["#1f77b4","#1f77b4","#ff7f0e","#ff7f0e","#2ca02c","#2ca02c","#d62728","#d62728","#800080"]}},
  "strokeDash": {"field": "s", "type": "nominal", "scale": {"domain": ["A2","F2","A4","F4","A6","F6","A8","F8","P2"], "range": [[1,0],[5.5,2.5],[1,0],[5.5,2.5],[1,0],[5.5,2.5],[1,0],[5.5,2.5],[1,0]]}}
 }
}
]
}
